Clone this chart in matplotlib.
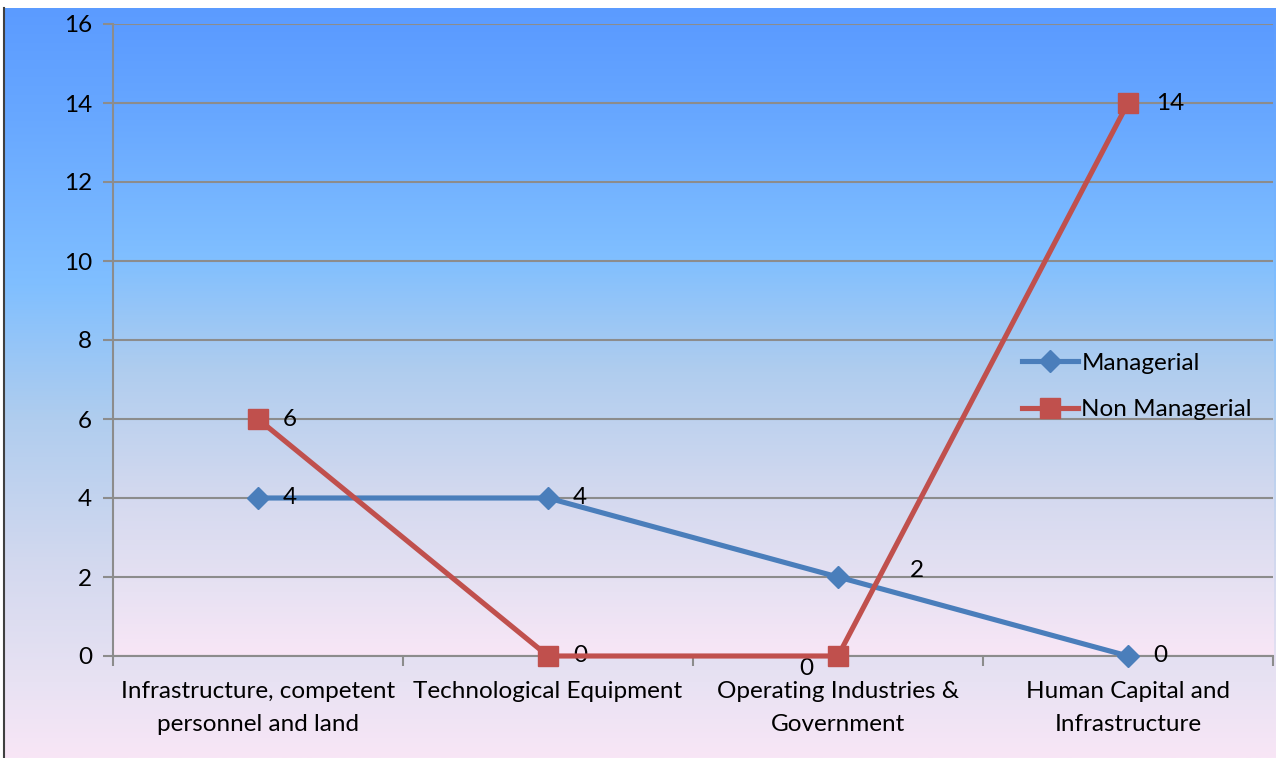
import matplotlib.pyplot as plt
import numpy as np
from matplotlib.colors import LinearSegmentedColormap

plt.rcParams['font.family'] = ['Lato', 'DejaVu Sans']

categories = ['Infrastructure, competent\npersonnel and land', 'Technological Equipment',
              'Operating Industries &\nGovernment', 'Human Capital and\nInfrastructure']
managerial = [4, 4, 2, 0]
non_managerial = [6, 0, 0, 14]

fig = plt.figure(figsize=(12.79, 7.58), dpi=100)

# blue-to-pink gradient, used for chart area and plot area
grad = LinearSegmentedColormap.from_list('bg', [
    (0.0, '#f8e6f6'), (0.1, '#e8e2f3'), (0.25, '#d4d9ef'), (0.45, '#b0cdee'),
    (0.63, '#80bfff'), (0.85, '#68a8ff'), (1.0, '#5b9bff')])
ramp = np.linspace(0, 1, 256).reshape(-1, 1)

bg = fig.add_axes([0.003, 0, 0.994, 0.99])
bg.imshow(ramp, aspect='auto', cmap=grad, origin='lower', extent=[0, 1, 0, 1])
bg.set_xticks([])
bg.set_yticks([])
for s in ['top', 'right', 'bottom']:
    bg.spines[s].set_visible(False)
bg.spines['left'].set_color('#404040')
bg.spines['left'].set_linewidth(1.5)

ax = fig.add_axes([113 / 1279, 1 - 656 / 758, 1160 / 1279, 632 / 758])
ax.imshow(ramp, aspect='auto', cmap=grad, origin='lower', extent=[0, 1, 0, 1],
          transform=ax.transAxes, zorder=0)
x = np.arange(len(categories))

ax.plot(x, managerial, color='#4a7ebb', lw=3.7, marker='D', ms=11, label='Managerial',
        zorder=3, clip_on=False)
ax.plot(x, non_managerial, color='#c0504d', lw=3.7, marker='s', ms=14, label='Non Managerial',
        zorder=4, clip_on=False)

ax.set_xlim(-0.5, 3.5)
ax.set_ylim(0, 16)
ax.set_yticks(range(0, 17, 2))
ax.yaxis.grid(True, color='#8c8c8c', lw=1.5, zorder=1)
ax.set_axisbelow(True)
ax.set_xticks(x)
ax.set_xticklabels(categories, fontsize=17.5, linespacing=1.7)
ax.set_xticks(np.arange(-0.5, 3.6, 1), minor=True)
ax.tick_params(axis='x', which='major', length=0, pad=18)
ax.tick_params(axis='x', which='minor', length=7, color='#8c8c8c', width=1.5)
ax.tick_params(axis='y', length=7, color='#8c8c8c', width=1.5, labelsize=17.5, pad=8)
for s in ['top', 'right']:
    ax.spines[s].set_visible(False)
for s in ['left', 'bottom']:
    ax.spines[s].set_color('#8c8c8c')
    ax.spines[s].set_linewidth(1.5)

# data labels
offsets_m = [(18, 0), (18, 0), (52, 5), (18, 0)]
offsets_n = [(18, 0), (18, 0), (-28, -9), (20, 0)]
for i, v in enumerate(managerial):
    ax.annotate(str(v), (x[i], v), xytext=offsets_m[i], textcoords='offset points',
                ha='left', va='center', fontsize=17.5, annotation_clip=False)
for i, v in enumerate(non_managerial):
    ax.annotate(str(v), (x[i], v), xytext=offsets_n[i], textcoords='offset points',
                ha='left', va='center', fontsize=17.5, annotation_clip=False)

ax.legend(loc='upper left', bbox_to_anchor=(0.773, 0.499), frameon=False, fontsize=17.5,
          handlelength=2.3, handletextpad=0.15, labelspacing=1.05, borderpad=0)

plt.savefig('out.png', dpi=100)
